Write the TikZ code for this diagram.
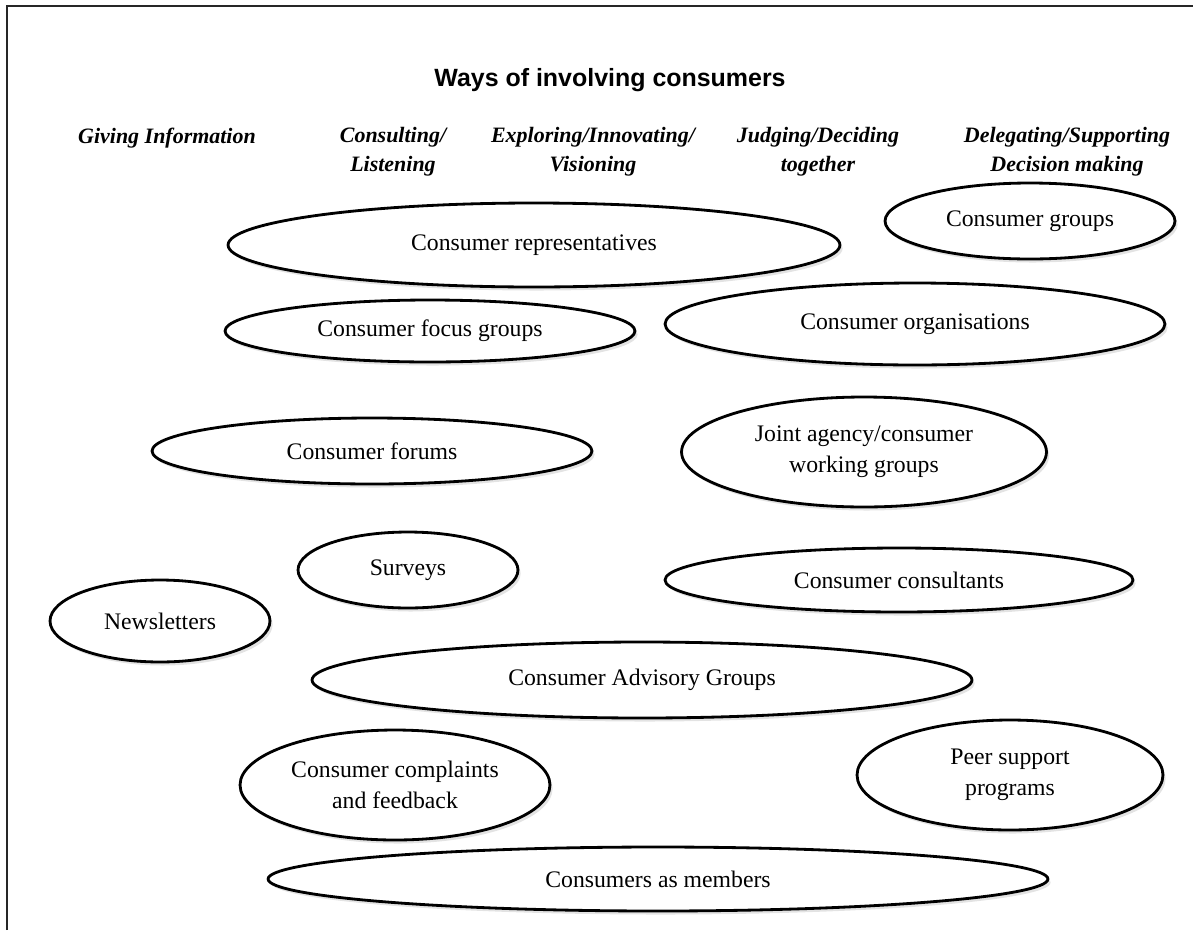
\documentclass[tikz,border=0pt]{standalone}
\usepackage{fontspec}
\setmainfont{Liberation Serif}
\setsansfont{Liberation Sans}
\usetikzlibrary{shapes.geometric,shadows}

\begin{document}
\begin{tikzpicture}[x=0.02cm,y=-0.02cm,
	idea/.style={draw,ellipse,line width=1.6pt,fill=white,inner sep=0pt,
		align=center,font=\fontsize{13.5}{17.5}\selectfont,
		drop shadow={opacity=0.22,shadow xshift=1.5pt,shadow yshift=-2pt}},
	colhead/.style={align=center,font=\fontsize{12.5}{16.5}\selectfont\bfseries\itshape}]
	\useasboundingbox (0,0) rectangle (1193,930);
	\draw[line width=1.6pt,black!85] (7,930)--(7,6)--(1193,6);
	% title and the five ways
	\node[font=\sffamily\bfseries\fontsize{14.2}{17}\selectfont] (title) at (610,80) {Ways of involving consumers};
	\node[colhead] (giving) at (167,138) {Giving Information};
	\node[colhead] (consult) at (393,152) {Consulting/\\Listening};
	\node[colhead] (explore) at (593,152) {Exploring/Innovating/\\Visioning};
	\node[colhead] (judge) at (818,152) {Judging/Deciding\\together};
	\node[colhead] (delegate) at (1067,152) {Delegating/Supporting\\Decision making};
	% ellipses
	\node[idea,minimum width=12.24cm,minimum height=1.68cm] (reps) at (534,245) {Consumer representatives};
	\node[idea,minimum width=5.8cm,minimum height=1.52cm] (cgroups) at (1030,221) {Consumer groups};
	\node[idea,minimum width=8.2cm,minimum height=1.24cm] (focus) at (430,331) {Consumer focus groups};
	\node[idea,minimum width=10cm,minimum height=1.64cm] (orgs) at (915,324) {Consumer organisations};
	\node[idea,minimum width=8.8cm,minimum height=1.32cm] (forums) at (372,451) {Consumer forums};
	\node[idea,minimum width=7.3cm,minimum height=2.2cm] (joint) at (864,452) {Joint agency/consumer\\working groups};
	\node[idea,minimum width=4.4cm,minimum height=1.52cm] (surveys) at (408,570) {Surveys};
	\node[idea,minimum width=9.36cm,minimum height=1.28cm] (consultants) at (899,580) {Consumer consultants};
	\node[idea,minimum width=4.4cm,minimum height=1.64cm] (news) at (160,621) {Newsletters};
	\node[idea,minimum width=13.2cm,minimum height=1.52cm] (advisory) at (642,680) {Consumer Advisory Groups};
	\node[idea,minimum width=6.2cm,minimum height=2.2cm] (complaints) at (395,785) {Consumer complaints\\and feedback};
	\node[idea,minimum width=6.12cm,minimum height=2.2cm] (peer) at (1010,775) {Peer support\\programs};
	\node[idea,minimum width=15.6cm,minimum height=1.28cm] (members) at (658,879) {Consumers as members};
\end{tikzpicture}
\end{document}
